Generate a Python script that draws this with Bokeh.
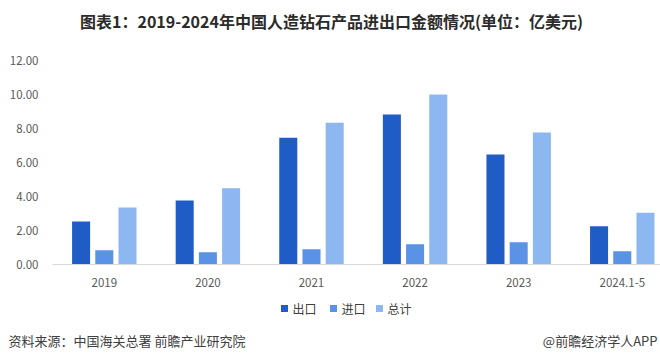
from bokeh.plotting import figure
from bokeh.layouts import column
from bokeh.models import (ColumnDataSource, Range1d, FixedTicker,
                          NumeralTickFormatter)
from bokeh.core.properties import value
from bokeh.transform import dodge
from bokeh.embed import file_html
from bokeh.resources import INLINE

# ---- data ----
years = ["2019", "2020", "2021", "2022", "2023", "2024.1-5"]
export_vals = [2.53, 3.76, 7.45, 8.82, 6.47, 2.25]
import_vals = [0.84, 0.72, 0.90, 1.19, 1.31, 0.78]
total_vals = [3.36, 4.48, 8.34, 10.00, 7.77, 3.04]
series_names = ["出口", "进口", "总计"]
y_ticks = [0, 2, 4, 6, 8, 10, 12]

title_text = "图表1：2019-2024年中国人造钻石产品进出口金额情况(单位：亿美元)"
source_text = "资料来源：中国海关总署 前瞻产业研究院"
credit_text = "@前瞻经济学人APP"

colors = ["#1F5CC5", "#5A92E6", "#8DB7F0"]
FONT = "Noto Sans CJK SC"
W = 660


def blank(height):
    f = figure(width=W, height=height, output_backend="svg", toolbar_location=None,
               x_range=Range1d(0, W), y_range=Range1d(0, height),
               x_axis_location=None, y_axis_location=None,
               min_border=0, min_border_left=0, min_border_right=0,
               min_border_top=0, min_border_bottom=0, frame_align=False)
    f.grid.visible = False
    f.outline_line_color = None
    return f


# ---- header ----
head = blank(44)
head.text(x=[331], y=[24], text=[title_text], text_align="center",
          text_baseline="middle", text_font=value(FONT), text_font_size="16px",
          text_font_style="bold", text_color="#2B2B2B")

# ---- main chart ----
src = ColumnDataSource(dict(idx=list(range(len(years))), export=export_vals,
                            imp=import_vals, total=total_vals))

p = figure(width=W, height=251, output_backend="svg", toolbar_location=None,
           x_range=Range1d(-0.5, 5.369), y_range=Range1d(0, 12),
           min_border_left=52, min_border_right=0, min_border_top=16,
           min_border_bottom=31, frame_align=False)
p.outline_line_color = None
p.xgrid.visible = False
p.ygrid.visible = False

bw = 0.174
off = 0.224
vals = [("export", -off), ("imp", 0.0), ("total", off)]
for (col, o), c in zip(vals, colors):
    p.vbar(x=dodge("idx", o), top=col, width=bw, source=src,
           fill_color=c, line_color=None)

p.xaxis.ticker = FixedTicker(ticks=list(range(len(years))))
p.xaxis.major_label_overrides = {i: y for i, y in enumerate(years)}
p.xaxis.axis_line_color = "#D9D9D9"
p.xaxis.axis_line_width = 1
p.xaxis.major_tick_line_color = None
p.xaxis.minor_tick_line_color = None
p.xaxis.major_label_standoff = 7
p.xaxis.major_label_text_font = FONT
p.xaxis.major_label_text_font_size = "11.5px"
p.xaxis.major_label_text_color = "#595959"

p.yaxis.ticker = FixedTicker(ticks=y_ticks)
p.yaxis.formatter = NumeralTickFormatter(format="0.00")
p.yaxis.axis_line_color = None
p.yaxis.major_tick_line_color = None
p.yaxis.minor_tick_line_color = None
p.yaxis.major_label_standoff = 8
p.yaxis.major_label_text_font = FONT
p.yaxis.major_label_text_font_size = "11.5px"
p.yaxis.major_label_text_color = "#595959"

# ---- footer: legend + source ----
foot = blank(68)
legend_x = [284, 333, 379]
foot.rect(x=legend_x, y=[55] * 3, width=7, height=7, fill_color=colors,
          line_color=None)
foot.text(x=[lx + 8 for lx in legend_x], y=[55] * 3, text=series_names,
          text_align="left", text_baseline="middle", text_font=value(FONT),
          text_font_size="12px", text_color="#404040")
foot.text(x=[8], y=[23], text=[source_text], text_align="left",
          text_baseline="middle", text_font=value(FONT), text_font_size="13px",
          text_color="#404040")
foot.text(x=[657], y=[23], text=[credit_text], text_align="right",
          text_baseline="middle", text_font=value(FONT), text_font_size="13px",
          text_color="#404040")

layout = column(head, p, foot, spacing=0)
open("out.html", "w").write(file_html(layout, INLINE))
